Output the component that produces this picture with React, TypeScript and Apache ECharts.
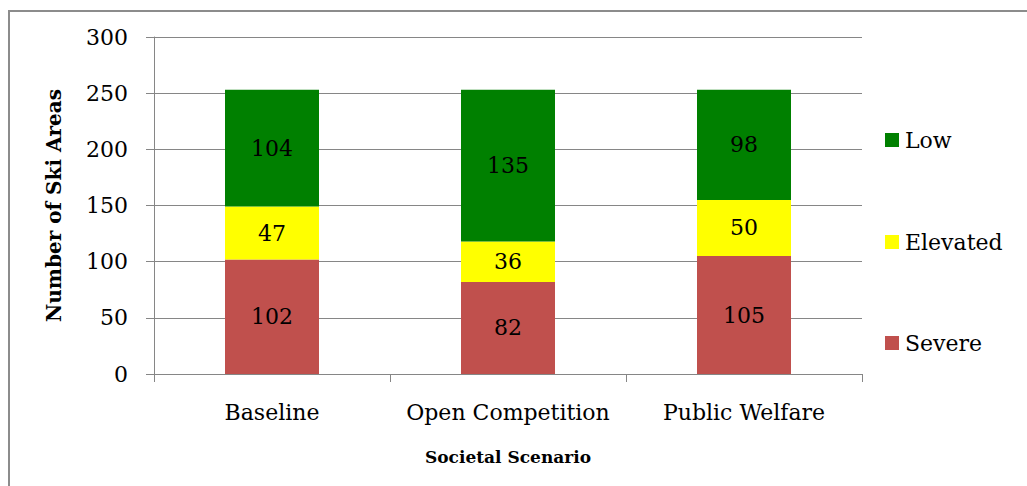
import React, { useEffect, useRef } from "react";
import * as echarts from "echarts";

const categories = ["Baseline", "Open Competition", "Public Welfare"];
const severe = [102, 82, 105];
const elevated = [47, 36, 50];
const low = [104, 135, 98];
const yTicks = [0, 50, 100, 150, 200, 250, 300];

const FONT = "DejaVu Serif";

export default function App() {
  const ref = useRef<HTMLDivElement>(null);
  useEffect(() => {
    if (!ref.current) return;
    const chart = echarts.init(ref.current, undefined, { renderer: "svg" });
    const label = {
      show: true,
      position: "inside",
      color: "#000",
      fontFamily: FONT,
      fontSize: 22,
    };
    const mkLegend = (name: string, top: number) => ({
      orient: "vertical",
      left: 885,
      top,
      padding: 0,
      data: [name],
      itemWidth: 14,
      itemHeight: 14,
      itemGap: 0,
      icon: "rect",
      textStyle: { fontFamily: FONT, fontSize: 22, color: "#000", padding: [0, 0, 0, 1] },
    });
    chart.setOption({
      animation: false,
      backgroundColor: "#fff",
      textStyle: { fontFamily: FONT },
      graphic: [
        {
          type: "rect",
          shape: { x: 9, y: 11, width: 1040, height: 500 },
          style: { fill: "none", stroke: "#8c8c8c", lineWidth: 2 },
          silent: true,
        },
      ],
      legend: [mkLegend("Low", 129), mkLegend("Elevated", 231), mkLegend("Severe", 332)],
      grid: { left: 154, right: 165, top: 37, bottom: 112 },
      xAxis: {
        type: "category",
        data: categories,
        name: "Societal Scenario",
        nameLocation: "middle",
        nameGap: 74,
        nameTextStyle: { fontFamily: FONT, fontSize: 17, fontWeight: "bold", color: "#000" },
        axisLine: { show: true, lineStyle: { color: "#868686", width: 1 } },
        axisTick: { show: true, length: 8, alignWithLabel: false, interval: 0, lineStyle: { color: "#868686" } },
        axisLabel: { fontFamily: FONT, fontSize: 22, color: "#000", margin: 27, interval: 0 },
        splitLine: { show: false },
      },
      yAxis: {
        type: "value",
        min: yTicks[0],
        max: yTicks[yTicks.length - 1],
        interval: 50,
        name: "Number of Ski Areas",
        nameLocation: "middle",
        nameGap: 90,
        nameRotate: 90,
        nameTextStyle: { fontFamily: FONT, fontSize: 20, fontWeight: "bold", color: "#000" },
        axisLine: { show: true, lineStyle: { color: "#868686", width: 1 } },
        axisTick: { show: true, length: 8, inside: false, lineStyle: { color: "#868686" } },
        axisLabel: { fontFamily: FONT, fontSize: 22, color: "#000", margin: 26 },
        splitLine: { show: true, lineStyle: { color: "#868686", width: 1 } },
      },
      series: [
        {
          name: "Severe",
          type: "bar",
          stack: "total",
          data: severe,
          barWidth: 94,
          itemStyle: { color: "#C0504D" },
          label,
        },
        {
          name: "Elevated",
          type: "bar",
          stack: "total",
          data: elevated,
          barWidth: 94,
          itemStyle: { color: "#FFFF00" },
          label,
        },
        {
          name: "Low",
          type: "bar",
          stack: "total",
          data: low,
          barWidth: 94,
          itemStyle: { color: "#008000" },
          label,
        },
      ],
    });
    return () => chart.dispose();
  }, []);
  return (
    <div
      ref={ref}
      style={{ position: "fixed", left: 0, top: 0, width: 1027, height: 486 }}
    />
  );
}
